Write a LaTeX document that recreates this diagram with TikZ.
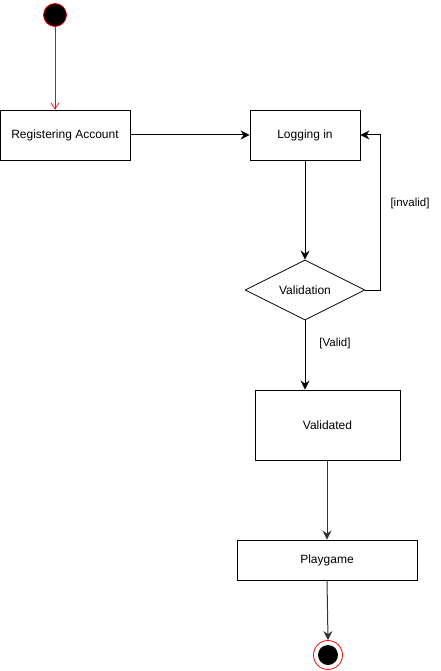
\documentclass[tikz,border=0pt]{standalone}
\usepackage{fontspec}
\setmainfont{Liberation Sans}
\usetikzlibrary{shapes.geometric,arrows.meta}
\begin{document}
\begin{tikzpicture}[x=1pt,y=-1pt,
  font=\fontsize{12}{14}\selectfont,
  box/.style={draw,line width=0.9pt,minimum height=50pt,inner sep=0pt},
  flow/.style={line width=1pt,-{Stealth[length=9pt,width=9pt,inset=3pt]}},
  label/.style={font=\fontsize{11.5}{13}\selectfont,inner sep=0pt}]
\useasboundingbox (0,0) rectangle (441,671);
% start and end states
\node[circle,draw=red,fill=black,line width=0.8pt,minimum size=23pt,inner sep=0pt] (start) at (55,15) {};
\node[circle,draw=red,line width=0.8pt,minimum size=29pt,inner sep=0pt] (stop) at (328,655) {};
\node[circle,fill=black,minimum size=20pt,inner sep=0pt] (stopdot) at (328,655) {};
% activities
\node[box,minimum width=130pt] (reg) at (65,135) {Registering Account};
\node[box,minimum width=110pt] (login) at (305,135) {Logging in};
\node[draw,diamond,aspect=2,line width=0.8pt,minimum width=120pt,minimum height=60pt,inner sep=0pt] (valid) at (305,290) {Validation};
\node[box,minimum width=145pt,minimum height=70pt] (done) at (327.5,425) {Validated};
\node[box,minimum width=180pt,minimum height=40pt] (play) at (327,560) {Playgame};
\coordinate (loop) at (380,290);
% transitions
\draw[red,line width=0.7pt,-{Straight Barb[length=6pt,width=8pt]}] (start) -- (reg.north -| start);
\draw[flow] (reg) -- (login);
\draw[flow] (login) -- (valid);
\draw[flow] (valid.east) -- (loop) |- (login.east);
\node[label] (lblinv) at (410,204) {[invalid]};
\draw[flow] (valid.south) -- (done.north -| valid.south);
\node[label] (lblval) at (335,344) {[Valid]};
\draw[flow,black!80] (done.south -| play.north) -- (play.north);
\draw[flow,black!80] (play.south) -- (stop.north);
\end{tikzpicture}
\end{document}
